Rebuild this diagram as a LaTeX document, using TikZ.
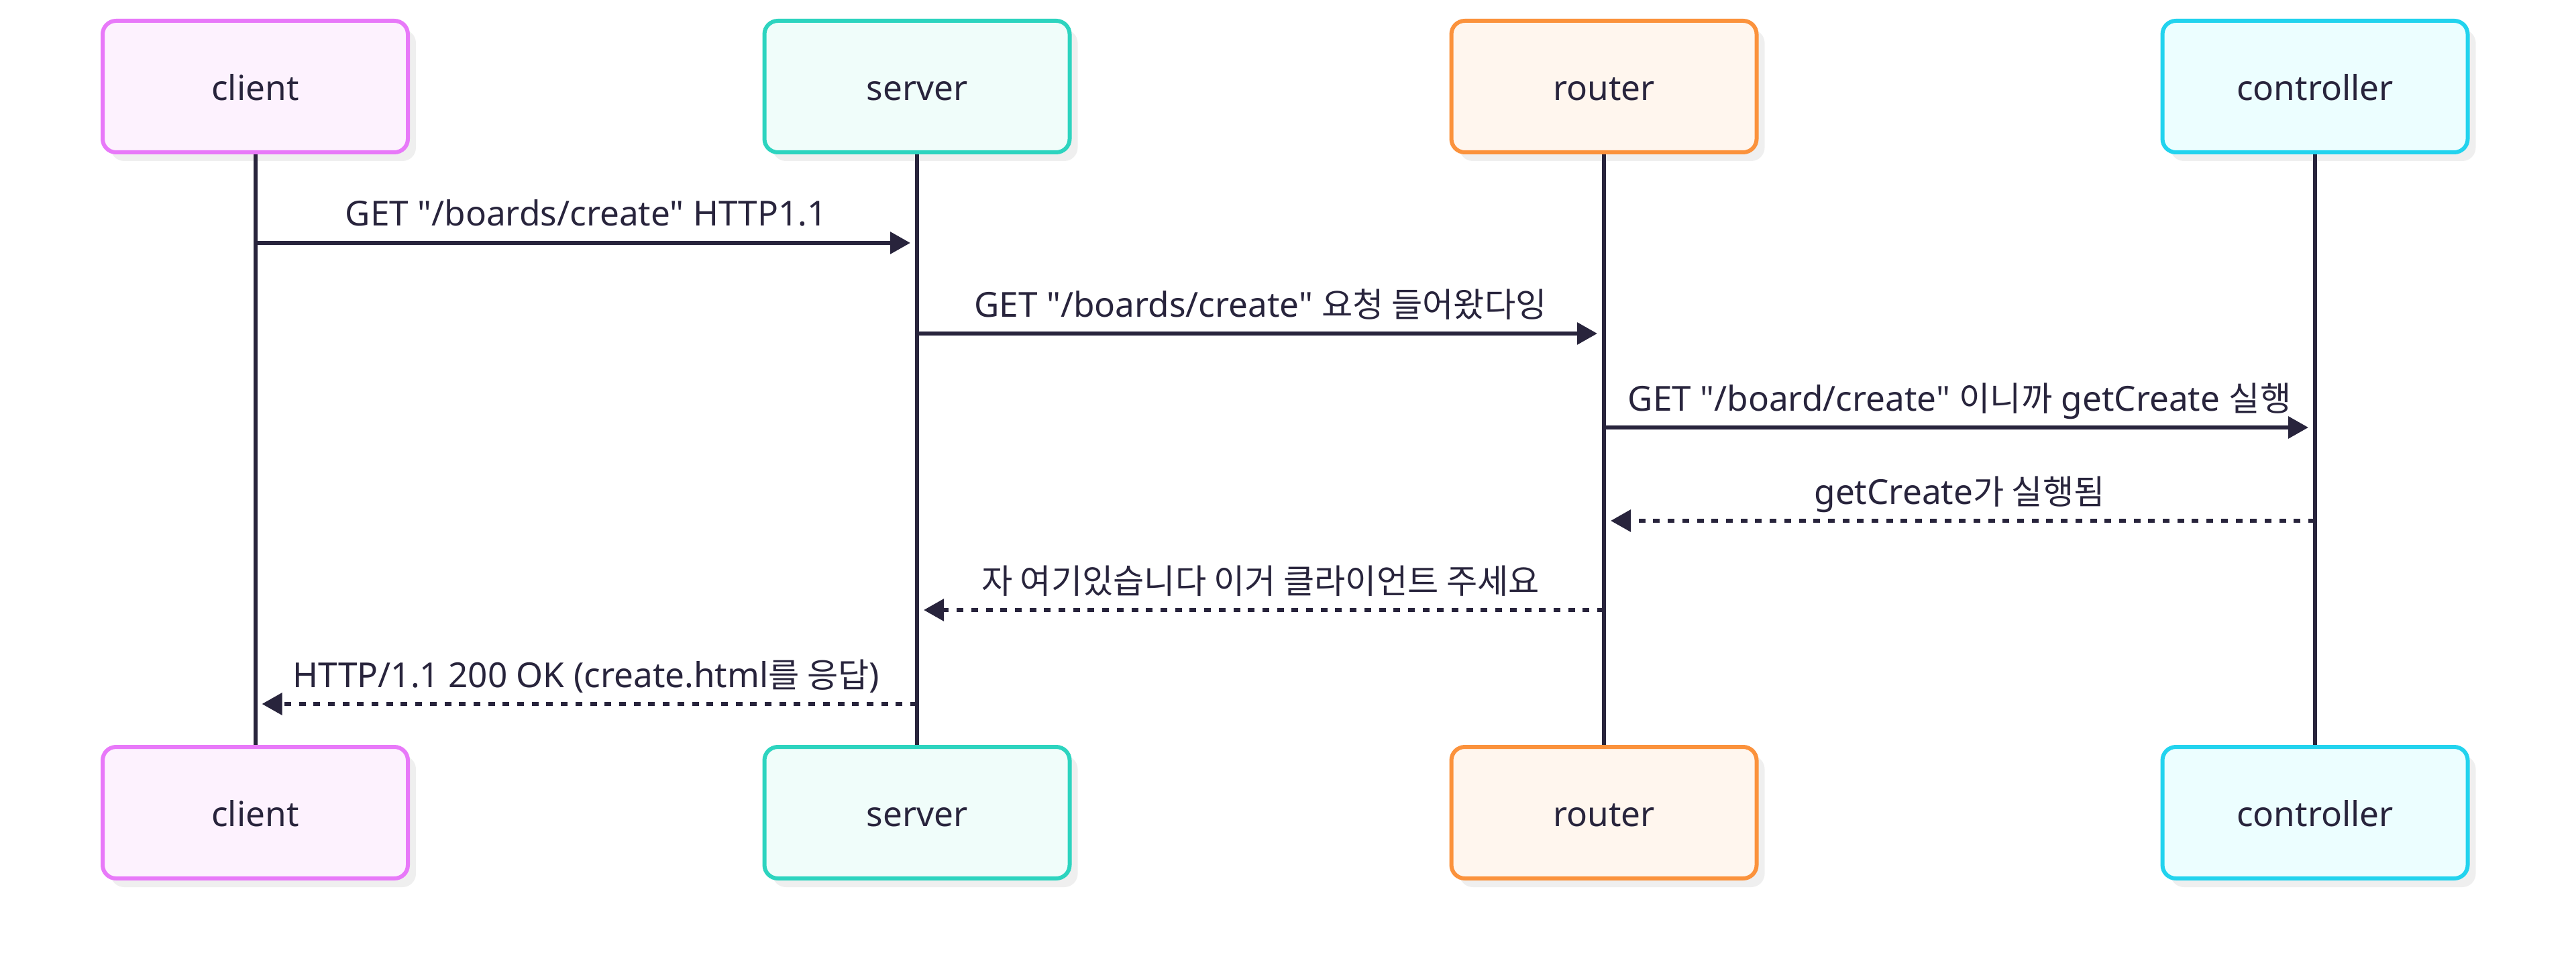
\documentclass[tikz,border=0pt]{standalone}
\usepackage{fontspec}
\setmainfont{Noto Sans}[Ligatures=TeXOff]
\newfontfamily\kr[Scale=0.98]{Noto Sans CJK KR}
\usetikzlibrary{arrows.meta, positioning, shadows}

\definecolor{ink}{HTML}{28243C}
\definecolor{shade}{HTML}{EFEFEF}
\definecolor{clientline}{HTML}{E879F9}
\definecolor{clientfill}{HTML}{FDF2FE}
\definecolor{serverline}{HTML}{2DD4BF}
\definecolor{serverfill}{HTML}{F0FDFA}
\definecolor{routerline}{HTML}{FB923C}
\definecolor{routerfill}{HTML}{FFF6EE}
\definecolor{ctrlline}{HTML}{22D3EE}
\definecolor{ctrlfill}{HTML}{ECFEFF}

\newcommand{\diagfont}{\fontsize{14.6pt}{17pt}\selectfont}

\tikzstyle{actor} = [rectangle, rounded corners=0.2cm, minimum width=4.55cm, minimum height=1.96cm, line width=0.06cm, text=ink, font=\diagfont, text height=11.5pt, text depth=0pt, drop shadow={shadow xshift=0.12cm, shadow yshift=-0.13cm, fill=shade, opacity=1}]
\tikzstyle{lifeline} = [line width=0.06cm, draw=ink]
\tikzstyle{msg} = [line width=0.06cm, draw=ink, -{Triangle[length=0.3cm, width=0.32cm]}, shorten >=0.1cm]
\tikzstyle{reply} = [msg, dash pattern=on 0.1cm off 0.117cm]
\tikzstyle{lbl} = [anchor=base, yshift=0.25cm, text=ink, font=\diagfont, inner sep=0pt]

\begin{document}
\begin{tikzpicture}
  \useasboundingbox (0,0) rectangle (38.4,-14.38);

  % participants
  \node[actor, draw=clientline, fill=clientfill] (client) at (3.805,-1.29) {client};
  \node[actor, draw=serverline, fill=serverfill] (server) at (13.67,-1.29) {server};
  \node[actor, draw=routerline, fill=routerfill] (router) at (23.91,-1.29) {router};
  \node[actor, draw=ctrlline, fill=ctrlfill] (ctrl) at (34.51,-1.29) {controller};
  \node[actor, draw=clientline, fill=clientfill, below=8.8cm of client] (client_b) {client};
  \node[actor, draw=serverline, fill=serverfill, below=8.8cm of server] (server_b) {server};
  \node[actor, draw=routerline, fill=routerfill, below=8.8cm of router] (router_b) {router};
  \node[actor, draw=ctrlline, fill=ctrlfill, below=8.8cm of ctrl] (ctrl_b) {controller};

  \draw[lifeline] (client) -- (client_b);
  \draw[lifeline] (server) -- (server_b);
  \draw[lifeline] (router) -- (router_b);
  \draw[lifeline] (ctrl) -- (ctrl_b);

  % message rows
  \coordinate (y1) at (0,-3.62);
  \coordinate (y2) at (0,-4.97);
  \coordinate (y3) at (0,-6.37);
  \coordinate (y4) at (0,-7.76);
  \coordinate (y5) at (0,-9.09);
  \coordinate (y6) at (0,-10.49);

  \draw[msg] (client |- y1) -- node[lbl] (m1) {GET "/boards/create" HTTP1.1} (server |- y1);
  \draw[msg] (server |- y2) -- node[lbl] (m2) {GET "/boards/create" {\kr 요청 들어왔다잉}} (router |- y2);
  \draw[msg] (router |- y3) -- node[lbl] (m3) {GET "/board/create" {\kr 이니까} getCreate {\kr 실행}} (ctrl |- y3);
  \draw[reply] (ctrl |- y4) -- node[lbl] (m4) {getCreate{\kr 가 실행됨}} (router |- y4);
  \draw[reply] (router |- y5) -- node[lbl] (m5) {{\kr 자 여기있습니다 이거 클라이언트 주세요}} (server |- y5);
  \draw[reply] (server |- y6) -- node[lbl] (m6) {HTTP/1.1 200 OK (create.html{\kr 를 응답})} (client |- y6);
\end{tikzpicture}
\end{document}
